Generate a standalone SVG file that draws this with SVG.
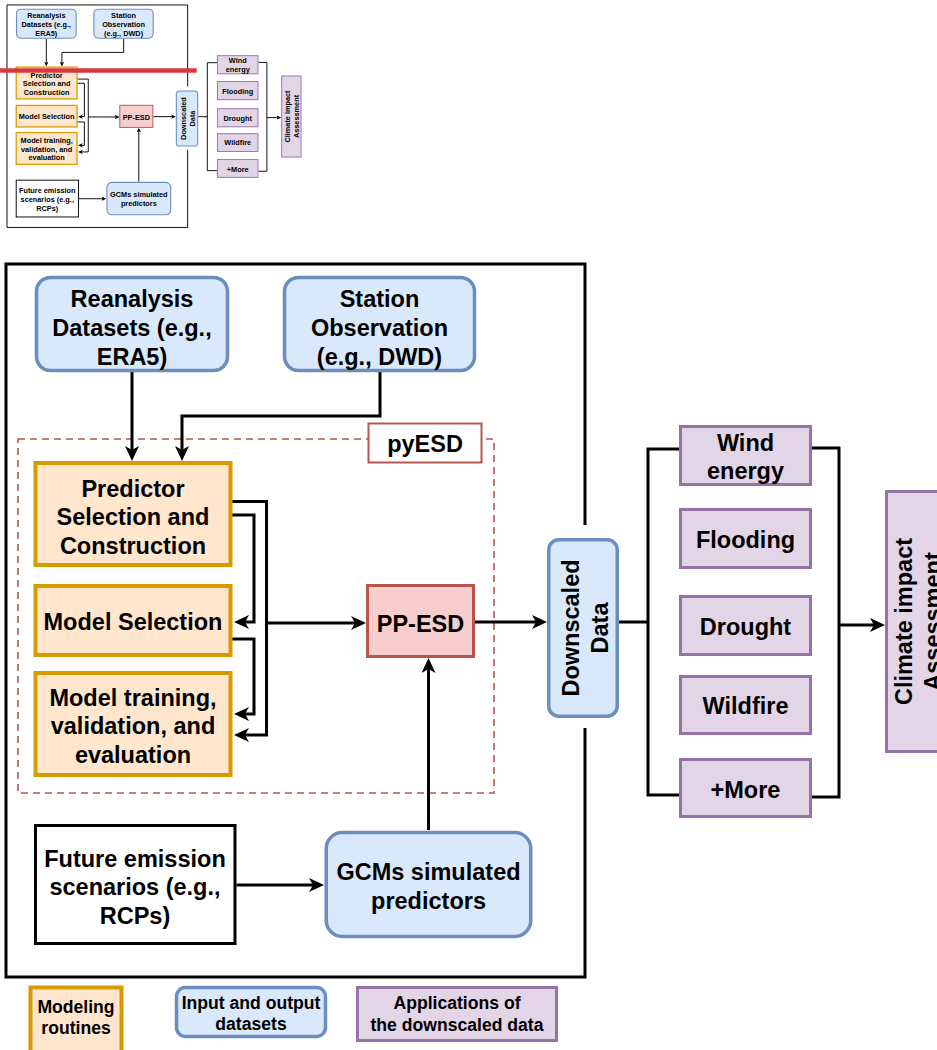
<svg xmlns="http://www.w3.org/2000/svg" width="937" height="1050" viewBox="0 0 937 1050">
<style>
text{font-family:"Liberation Sans",Arial,sans-serif;font-weight:bold;fill:#000;text-anchor:middle}
.t{font-size:23.5px}
.s{font-size:17.6px}
.blue{fill:#dae8fc;stroke:#6c8ebf;stroke-width:3.5}
.orange{fill:#ffe6cc;stroke:#d79b00;stroke-width:4}
.red{fill:#f8cecc;stroke:#b85450;stroke-width:3}
.purple{fill:#e1d5e7;stroke:#9673a6;stroke-width:3}
.plain{fill:#fff;stroke:#000;stroke-width:3}
.c{fill:none;stroke:#000;stroke-width:3}
.ca{fill:none;stroke:#000;stroke-width:3;marker-end:url(#arr)}
</style>
<defs>
<marker id="arr" markerUnits="userSpaceOnUse" viewBox="0 0 15 14" refX="11" refY="7" markerWidth="15" markerHeight="14" orient="auto">
<path d="M0,0 L15,7 L0,14 L4,7 Z" fill="#000"/>
</marker>
</defs>
<rect width="937" height="1050" fill="#fff"/>
<g id="pyesd">
<rect x="18" y="439" width="476" height="354" fill="none" stroke="#b85450" stroke-width="1.6" stroke-dasharray="7 5"/>
<rect x="368.5" y="423.5" width="113" height="39" fill="#fff" stroke="#b85450" stroke-width="2"/>
<text class="t" x="425" y="451.5">pyESD</text>
</g>
<g id="diagram">
<path id="frame" d="M585,525 V264 H6 V977 H585 V728" fill="none" stroke="#000" stroke-width="3"/>
<g id="connectors">
<path class="ca" d="M132,372 V457"/>
<path class="ca" d="M380,372 V416 H182 V457"/>
<path class="ca" d="M232,501.5 H266.5 V735 H238"/>
<path class="ca" d="M232,515 H254 V622 H238"/>
<path class="ca" d="M232,639 H254 V714 H238"/>
<path class="ca" d="M266.5,623 H362"/>
<path class="ca" d="M475,622 H543"/>
<path class="ca" d="M428.5,830 V662"/>
<path class="ca" d="M236.5,885 H320"/>
<path class="c" d="M619,622 H648"/>
<path class="c" d="M679,449 H648 V795 H679"/>
<path class="c" d="M812,448 H839 V797 H812"/>
<path class="ca" d="M839,625 H881"/>
</g>
<g id="reanalysis">
<rect class="blue" x="36.5" y="277.5" width="191" height="93" rx="14"/>
<text class="t"><tspan x="132" y="307">Reanalysis</tspan><tspan x="132" y="336">Datasets (e.g.,</tspan><tspan x="132" y="365">ERA5)</tspan></text>
</g>
<g id="station">
<rect class="blue" x="284.5" y="277.5" width="190" height="93" rx="14"/>
<text class="t"><tspan x="379.5" y="307">Station</tspan><tspan x="379.5" y="336">Observation</tspan><tspan x="379.5" y="365">(e.g., DWD)</tspan></text>
</g>
<g id="predictor">
<rect class="orange" x="35.5" y="463" width="195" height="102"/>
<text class="t"><tspan x="133" y="496.5">Predictor</tspan><tspan x="133" y="525">Selection and</tspan><tspan x="133" y="553.5">Construction</tspan></text>
</g>
<g id="model-selection">
<rect class="orange" x="35.5" y="586" width="195" height="69"/>
<text class="t" x="133" y="630">Model Selection</text>
</g>
<g id="model-training">
<rect class="orange" x="35.5" y="673" width="195" height="102"/>
<text class="t"><tspan x="133" y="705.5">Model training,</tspan><tspan x="133" y="734">validation, and</tspan><tspan x="133" y="762.5">evaluation</tspan></text>
</g>
<g id="pp-esd">
<rect class="red" x="367.5" y="585.5" width="106" height="71"/>
<text class="t" x="420.5" y="631.5">PP-ESD</text>
</g>
<g id="future-emission">
<rect class="plain" x="35.5" y="825.5" width="199.5" height="118"/>
<text class="t"><tspan x="135" y="866.5">Future emission</tspan><tspan x="135" y="895">scenarios (e.g.,</tspan><tspan x="135" y="923.5">RCPs)</tspan></text>
</g>
<g id="gcms">
<rect class="blue" x="326.25" y="832.5" width="204.5" height="104" rx="16"/>
<text class="t"><tspan x="428.5" y="880">GCMs simulated</tspan><tspan x="428.5" y="909">predictors</tspan></text>
</g>
<g id="downscaled">
<rect class="blue" x="548.75" y="539.75" width="68.5" height="176.5" rx="10" stroke-width="3"/>
<text class="t" transform="translate(583,628) rotate(-90)"><tspan x="0" y="-4">Downscaled</tspan><tspan x="0" y="24.5">Data</tspan></text>
</g>
<g id="wind">
<rect class="purple" x="680.5" y="426.5" width="130" height="58"/>
<text class="t"><tspan x="745.5" y="451">Wind</tspan><tspan x="745.5" y="478.5">energy</tspan></text>
</g>
<g id="flooding">
<rect class="purple" x="680.5" y="509.5" width="130" height="58"/>
<text class="t" x="745.5" y="548">Flooding</text>
</g>
<g id="drought">
<rect class="purple" x="680.5" y="596.5" width="130" height="58"/>
<text class="t" x="745.5" y="635">Drought</text>
</g>
<g id="wildfire">
<rect class="purple" x="680.5" y="676.5" width="130" height="57"/>
<text class="t" x="745.5" y="714">Wildfire</text>
</g>
<g id="more">
<rect class="purple" x="680.5" y="759.5" width="130" height="57"/>
<text class="t" x="745.5" y="798">+More</text>
</g>
<g id="climate">
<rect class="purple" x="886.5" y="491.5" width="62" height="260"/>
<text class="t" transform="translate(916.5,621.5) rotate(-90)"><tspan x="0" y="-4.5">Climate impact</tspan><tspan x="0" y="24">Assessment</tspan></text>
</g>
</g>
<g id="legend">
<g id="legend-modeling">
<rect class="orange" x="30.5" y="987.5" width="91" height="70" stroke-width="3"/>
<text class="s"><tspan x="76" y="1013">Modeling</tspan><tspan x="76" y="1034">routines</tspan></text>
</g>
<g id="legend-datasets">
<rect class="blue" x="176.5" y="987.5" width="149" height="49" rx="9" stroke-width="3"/>
<text class="s"><tspan x="251" y="1008.5">Input and output</tspan><tspan x="251" y="1029.5">datasets</tspan></text>
</g>
<g id="legend-applications">
<rect class="purple" x="357.5" y="987.5" width="199" height="53" stroke-width="3.5"/>
<text class="s"><tspan x="457" y="1008.5">Applications of</tspan><tspan x="457" y="1030.5">the downscaled data</tspan></text>
</g>
</g>
<g id="thumbnail">
<use href="#diagram" transform="translate(5.13,-77.4) scale(0.312)"/>
<line x1="0" y1="70.5" x2="196.7" y2="70.5" stroke="#d9373c" stroke-width="4.5"/>
</g>
</svg>
